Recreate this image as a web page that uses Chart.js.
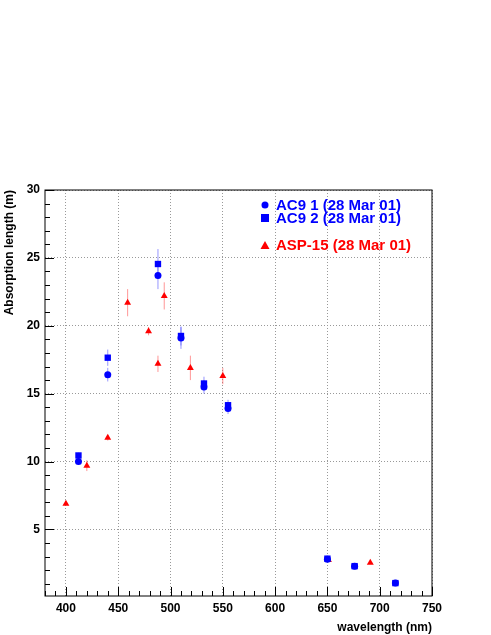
<!DOCTYPE html>
<html><head>
<script src="https://cdn.jsdelivr.net/npm/chart.js@4"></script>
<style>body{margin:0;background:#fff}#wrap{width:491px;height:635px}</style>
</head><body><div id="wrap"><canvas id="c"></canvas></div>
<script>
// AC9 1 (28 Mar 01)
const ac1X = [412, 440, 488, 510, 532, 555, 650, 676, 715];
const ac1Y = [10.0, 16.4, 23.7, 19.1, 15.5, 13.9, 2.8, 2.3, 1.05];
const ac1E = [0.2, 0.5, 1.0, 0.8, 0.5, 0.4, 0.1, 0.1, 0.1];
// AC9 2 (28 Mar 01)
const ac2X = [412, 440, 488, 510, 532, 555, 650, 676, 715];
const ac2Y = [10.45, 17.65, 24.55, 19.25, 15.75, 14.15, 2.85, 2.3, 1.05];
const ac2E = [0.2, 0.6, 1.1, 0.7, 0.5, 0.4, 0.1, 0.1, 0.1];
// ASP-15 (28 Mar 01)
const aspX = [400, 420, 440, 459, 479, 488, 494, 519, 550, 651, 691];
const aspY = [6.9, 9.7, 11.75, 21.7, 19.6, 17.2, 22.2, 16.9, 16.3, 2.75, 2.55];
const aspE = [0.1, 0.4, 0.2, 1.0, 0.3, 0.6, 1.0, 0.9, 0.6, 0.1, 0.1];

const xTicks = [400, 450, 500, 550, 600, 650, 700, 750];
const yTicks = [5, 10, 15, 20, 25, 30];
const F = "bold 12px 'Liberation Sans', Arial, sans-serif";

const mk = (xs, ys) => xs.map((x, i) => ({x: x, y: ys[i]}));

const errBars = {
  id: "errBars",
  beforeDatasetsDraw(chart) {
    const {ctx, scales: {x, y}} = chart;
    const sets = [[ac1X, ac1Y, ac1E, "rgba(80,80,255,0.6)"], [ac2X, ac2Y, ac2E, "rgba(80,80,255,0.6)"], [aspX, aspY, aspE, "rgba(255,80,80,0.6)"]];
    ctx.save();
    ctx.lineWidth = 1;
    sets.forEach(([xs, ys, es, col]) => {
      ctx.strokeStyle = col;
      xs.forEach((v, i) => {
        const px = x.getPixelForValue(v);
        ctx.beginPath();
        ctx.moveTo(px, y.getPixelForValue(ys[i] - es[i]));
        ctx.lineTo(px, y.getPixelForValue(ys[i] + es[i]));
        ctx.stroke();
      });
    });
    ctx.restore();
  },
  afterDraw(chart) {
    const {ctx, chartArea: a, scales: {x, y}} = chart;
    ctx.save();
    ctx.strokeStyle = "#000";
    ctx.lineWidth = 1;
    ctx.strokeRect(a.left, a.top, a.right - a.left, a.bottom - a.top);
    ctx.beginPath();
    for (let v = 1; v <= 30; v++) {
      const py = Math.round(y.getPixelForValue(v)) + 0.5;
      const len = v % 5 === 0 ? 9 : 5;
      ctx.moveTo(a.left, py); ctx.lineTo(a.left + len, py);
    }
    for (let v = 380; v <= 750; v += 10) {
      const px = Math.round(x.getPixelForValue(v)) + 0.5;
      const len = v % 50 === 0 ? 9 : 5;
      ctx.moveTo(px, a.bottom); ctx.lineTo(px, a.bottom - len);
    }
    ctx.stroke();
    ctx.font = F;
    ctx.fillStyle = "#000";
    ctx.textAlign = "right";
    ctx.fillText("wavelength (nm)", a.right, a.bottom + 35);
    ctx.translate(13, a.top);
    ctx.rotate(-Math.PI / 2);
    ctx.fillText("Absorption length (m)", 0, 0);
    ctx.restore();
    // legend
    ctx.save();
    ctx.font = "bold 15px 'Liberation Sans', Arial, sans-serif";
    ctx.textBaseline = "middle";
    ctx.fillStyle = "#0000ff";
    ctx.beginPath(); ctx.arc(265, 205, 3.5, 0, Math.PI * 2); ctx.fill();
    ctx.fillRect(261, 214, 8, 8);
    ctx.fillText("AC9 1 (28 Mar 01)", 276, 206);
    ctx.fillText("AC9 2 (28 Mar 01)", 276, 219);
    ctx.fillStyle = "#ff0000";
    ctx.beginPath(); ctx.moveTo(265, 241); ctx.lineTo(269.5, 249); ctx.lineTo(260.5, 249); ctx.closePath(); ctx.fill();
    ctx.fillText("ASP-15 (28 Mar 01)", 276, 246);
    ctx.restore();
  }
};

new Chart(document.getElementById("c"), {
  type: "scatter",
  data: {
    datasets: [
      {data: mk(ac1X, ac1Y), pointStyle: "circle", radius: 3.5, backgroundColor: "#0000ff", borderWidth: 0},
      {data: mk(ac2X, ac2Y), pointStyle: "rect", radius: 4.5, backgroundColor: "#0000ff", borderWidth: 0},
      {data: mk(aspX, aspY), pointStyle: "triangle", radius: 4, backgroundColor: "#ff0000", borderWidth: 0}
    ]
  },
  options: {
    responsive: true, maintainAspectRatio: false, animation: false,
    layout: {padding: {top: 190, right: 59, left: 0, bottom: 0}},
    plugins: {legend: {display: false}, tooltip: {enabled: false}},
    scales: {
      x: {
        type: "linear", min: 380, max: 750,
        afterBuildTicks: s => { s.ticks = xTicks.map(v => ({value: v})); },
        afterFit: s => { s.height = 39; },
        grid: {color: "#999", drawTicks: false, tickBorderDash: [], borderDash: [1, 2]},
        border: {display: false, dash: [1, 2]},
        ticks: {color: "#000", font: {family: "'Liberation Sans', Arial", weight: "bold", size: 12}, padding: 5, maxRotation: 0}
      },
      y: {
        type: "linear", min: 0.1, max: 30,
        afterBuildTicks: s => { s.ticks = yTicks.map(v => ({value: v})); },
        afterFit: s => { s.width = 45; },
        grid: {color: "#999", drawTicks: false},
        border: {display: false, dash: [1, 2]},
        ticks: {color: "#000", font: {family: "'Liberation Sans', Arial", weight: "bold", size: 12}, padding: 5}
      }
    }
  },
  plugins: [errBars]
});
</script></body></html>
